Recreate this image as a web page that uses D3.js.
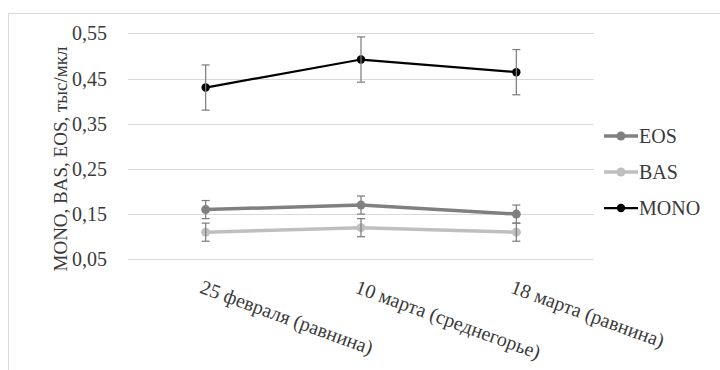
<!DOCTYPE html>
<html>
<head>
<meta charset="utf-8">
<script src="https://cdn.jsdelivr.net/npm/d3@7"></script>
<style>
	body { margin: 0; background: #fff; }
</style>
</head>
<body>
<svg width="720" height="370"></svg>
<script>
// chart data
var categories = ["25 февраля (равнина)", "10 марта (среднегорье)", "18 марта (равнина)"];
var eos = [0.16, 0.17, 0.15];
var eosErr = [0.02, 0.02, 0.02];
var bas = [0.11, 0.12, 0.11];
var basErr = [0.02, 0.02, 0.02];
var mono = [0.43, 0.492, 0.464];
var monoErr = [0.05, 0.05, 0.05];
var yTicks = [0.05, 0.15, 0.25, 0.35, 0.45, 0.55];
var yTitle = "MONO, BAS, EOS, тыс/мкл";

var series = [
	{ name: "EOS", values: eos, err: eosErr, color: "#808080", width: 3.5, r: 4.5 },
	{ name: "BAS", values: bas, err: basErr, color: "#bfbfbf", width: 3.5, r: 4.5 },
	{ name: "MONO", values: mono, err: monoErr, color: "#000000", width: 2.25, r: 4.2 }
];

var svg = d3.select("svg");
var fontSize = 20;
var textColor = "#3a3a3a";

// outer frame
svg.append("rect")
	.attr("x", 8.5).attr("y", 13.5)
	.attr("width", 740).attr("height", 400)
	.attr("fill", "none").attr("stroke", "#d9d9d9");

var x = d3.scaleBand().domain(categories).range([128, 594]);
var y = d3.scaleLinear().domain([0.05, 0.55]).range([259.3, 33.3]);

function cx(i) { return x(categories[i]) + x.bandwidth() / 2; }

function styleText(sel, size) {
	sel.attr("font-family", "Liberation Serif, serif")
		.attr("font-size", size || fontSize)
		.attr("fill", textColor);
}

// gridlines
svg.append("g").selectAll("line").data(yTicks).enter().append("line")
	.attr("x1", 128).attr("x2", 594)
	.attr("y1", function(d) { return Math.round(y(d)) + 0.5; })
	.attr("y2", function(d) { return Math.round(y(d)) + 0.5; })
	.attr("stroke", "#d9d9d9").attr("stroke-width", 1);

// y tick labels
svg.append("g").selectAll("text").data(yTicks).enter().append("text")
	.attr("x", 107).attr("y", function(d) { return y(d); })
	.attr("dy", "0.35em")
	.attr("text-anchor", "end")
	.call(styleText)
	.text(function(d) { return d3.format(".2f")(d).replace(".", ","); });

// y title
svg.append("text")
	.attr("transform", "translate(67,159) rotate(-90)")
	.attr("text-anchor", "middle")
	.call(styleText, 19)
	.text(yTitle);

// x labels
svg.append("g").selectAll("text").data(categories).enter().append("text")
	.attr("transform", function(d, i) { return "translate(" + (cx(i) - 2) + ",279) rotate(20)"; })
	.attr("dy", "0.72em")
	.call(styleText)
	.text(function(d) { return d; });

var line = d3.line()
	.x(function(d, i) { return cx(i); })
	.y(function(d) { return y(d); });

series.forEach(function(s) {
	var g = svg.append("g");
	g.append("path")
		.attr("d", line(s.values))
		.attr("fill", "none")
		.attr("stroke", s.color)
		.attr("stroke-width", s.width);
	g.selectAll("circle").data(s.values).enter().append("circle")
		.attr("cx", function(d, i) { return cx(i); })
		.attr("cy", function(d) { return y(d); })
		.attr("r", s.r)
		.attr("fill", s.color);
});

// error bars
series.forEach(function(s) {
	var g = svg.append("g").attr("stroke", "#7f7f7f").attr("stroke-width", 1.25);
	s.values.forEach(function(v, i) {
		var px = cx(i), top = y(v + s.err[i]), bot = y(v - s.err[i]);
		g.append("line").attr("x1", px).attr("x2", px).attr("y1", top).attr("y2", bot);
		g.append("line").attr("x1", px - 4).attr("x2", px + 4).attr("y1", top).attr("y2", top);
		g.append("line").attr("x1", px - 4).attr("x2", px + 4).attr("y1", bot).attr("y2", bot);
	});
});

// legend
var legend = svg.append("g").selectAll("g").data(series).enter().append("g")
	.attr("transform", function(d, i) { return "translate(604," + (136 + i * 36) + ")"; });
legend.append("line")
	.attr("x1", 0).attr("x2", 34)
	.attr("stroke", function(d) { return d.color; })
	.attr("stroke-width", function(d) { return d.width; });
legend.append("circle")
	.attr("cx", 17).attr("r", function(d) { return d.r; })
	.attr("fill", function(d) { return d.color; });
legend.append("text")
	.attr("x", 35).attr("dy", "0.35em")
	.call(styleText)
	.text(function(d) { return d.name; });
</script>
</body>
</html>
